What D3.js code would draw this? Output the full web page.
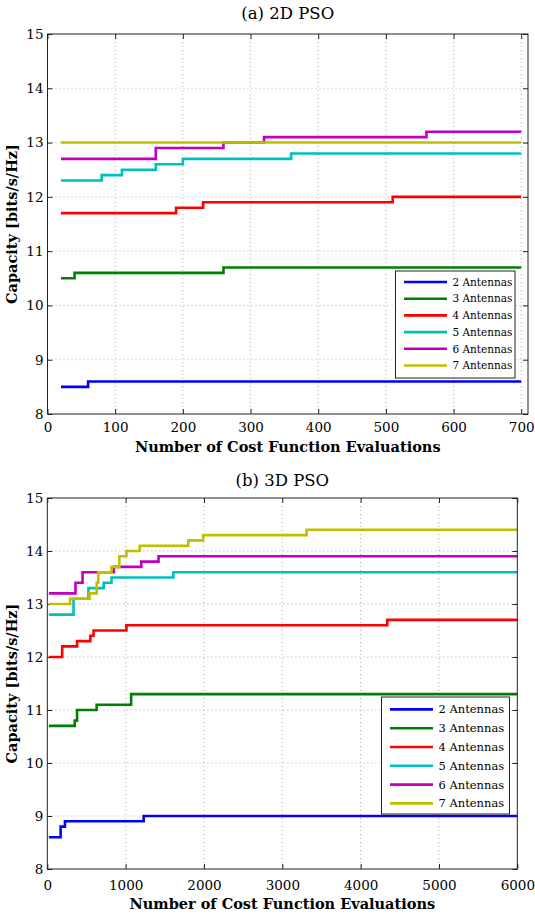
<!DOCTYPE html>
<html>
<head>
<meta charset="utf-8">
<script src="https://cdn.jsdelivr.net/npm/d3@7"></script>
<style>
  body { margin: 0; background: #fff; }
  svg text { font-family: "DejaVu Serif", serif; fill: #000; }
</style>
</head>
<body>
<div id="chart" style="width:535px;height:917px"></div>
<script>
// ---- data ----
const antennaLabels = ['2 Antennas', '3 Antennas', '4 Antennas', '5 Antennas', '6 Antennas', '7 Antennas'];
const yTicks = [8, 9, 10, 11, 12, 13, 14, 15];
const xTicks2D = [0, 100, 200, 300, 400, 500, 600, 700];
const xTicks3D = [0, 1000, 2000, 3000, 4000, 5000, 6000];

// (a) 2D PSO : evaluation count where the best capacity changes, and the capacity from there on
const evals2D_2 = [20, 60, 700];
const cap2D_2   = [8.5, 8.6, 8.6];
const evals2D_3 = [20, 40, 260, 700];
const cap2D_3   = [10.5, 10.6, 10.7, 10.7];
const evals2D_4 = [20, 190, 230, 510, 700];
const cap2D_4   = [11.7, 11.8, 11.9, 12.0, 12.0];
const evals2D_5 = [20, 80, 110, 160, 200, 360, 700];
const cap2D_5   = [12.3, 12.4, 12.5, 12.6, 12.7, 12.8, 12.8];
const evals2D_6 = [20, 160, 260, 320, 560, 700];
const cap2D_6   = [12.7, 12.9, 13.0, 13.1, 13.2, 13.2];
const evals2D_7 = [20, 700];
const cap2D_7   = [13.0, 13.0];

// (b) 3D PSO
const evals3D_2 = [20, 170, 225, 1230, 6000];
const cap3D_2   = [8.6, 8.8, 8.9, 9.0, 9.0];
const evals3D_3 = [20, 350, 380, 630, 1070, 6000];
const cap3D_3   = [10.7, 10.8, 11.0, 11.1, 11.3, 11.3];
const evals3D_4 = [20, 190, 380, 550, 590, 1010, 4340, 6000];
const cap3D_4   = [12.0, 12.2, 12.3, 12.4, 12.5, 12.6, 12.7, 12.7];
const evals3D_5 = [20, 335, 525, 720, 820, 1610, 6000];
const cap3D_5   = [12.8, 13.1, 13.3, 13.4, 13.5, 13.6, 13.6];
const evals3D_6 = [20, 360, 450, 850, 1200, 1420, 6000];
const cap3D_6   = [13.2, 13.4, 13.6, 13.7, 13.8, 13.9, 13.9];
const evals3D_7 = [20, 290, 540, 630, 650, 820, 920, 1010, 1180, 1800, 1990, 3310, 6000];
const cap3D_7   = [13.0, 13.1, 13.2, 13.4, 13.6, 13.7, 13.9, 14.0, 14.1, 14.2, 14.3, 14.4, 14.4];

const colors = ['#0000ff', '#008000', '#ff0000', '#00bfbf', '#bf00bf', '#bfbf00'];

const zipSeries = (xs, ys) => xs.map((x, i) => ({x: x, y: ys[i]}));

const panels = [
  {
    title: '(a) 2D PSO',
    box: {left: 47.5, right: 528, top: 34, bottom: 414},
    xDomain: [0, 710], xTicks: xTicks2D,
    series: [zipSeries(evals2D_2, cap2D_2), zipSeries(evals2D_3, cap2D_3), zipSeries(evals2D_4, cap2D_4),
             zipSeries(evals2D_5, cap2D_5), zipSeries(evals2D_6, cap2D_6), zipSeries(evals2D_7, cap2D_7)],
    titleY: 19, tickY: 432, labelY: 452, ylabelX: 17,
    legend: {x: 395.5, y: 271, w: 119.5, h: 107, row: 16.7, line: 43, font: 10.5}
  },
  {
    title: '(b) 3D PSO',
    box: {left: 47.3, right: 517.3, top: 498, bottom: 869},
    xDomain: [0, 6000], xTicks: xTicks3D,
    series: [zipSeries(evals3D_2, cap3D_2), zipSeries(evals3D_3, cap3D_3), zipSeries(evals3D_4, cap3D_4),
             zipSeries(evals3D_5, cap3D_5), zipSeries(evals3D_6, cap3D_6), zipSeries(evals3D_7, cap3D_7)],
    titleY: 486, tickY: 890, labelY: 909, ylabelX: 17,
    legend: {x: 381.5, y: 697, w: 128, h: 117, row: 18.8, line: 43, font: 11.5}
  }
];

const svg = d3.select('#chart').append('svg')
              .attr('width', 535)
              .attr('height', 917);

panels.forEach(p => drawPanel(p));

function drawPanel(p){
  let b = p.box;
  let g = svg.append('g');
  let xScale = d3.scaleLinear().domain(p.xDomain).range([b.left, b.right]);
  let yScale = d3.scaleLinear().domain([8, 15]).range([b.bottom, b.top]);

  // grid (dotted)
  g.append('g')
    .selectAll('line')
    .data(p.xTicks.filter(t => t > 0 && xScale(t) < b.right - 1))
    .enter().append('line')
      .attr('x1', d => xScale(d)).attr('x2', d => xScale(d))
      .attr('y1', b.top).attr('y2', b.bottom)
      .attr('stroke', '#999').attr('stroke-width', 0.8).attr('stroke-dasharray', '1,3');
  g.append('g')
    .selectAll('line')
    .data(yTicks.filter(t => t > 8 && t < 15))
    .enter().append('line')
      .attr('x1', b.left).attr('x2', b.right)
      .attr('y1', d => yScale(d)).attr('y2', d => yScale(d))
      .attr('stroke', '#999').attr('stroke-width', 0.8).attr('stroke-dasharray', '1,3');

  // axes with inward ticks, mirrored on top / right
  let xAxis = d3.axisBottom(xScale).tickValues(p.xTicks).tickFormat(d3.format('d')).tickSize(-5).tickSizeOuter(0);
  let yAxis = d3.axisLeft(yScale).tickValues(yTicks).tickFormat(d3.format('d')).tickSize(-5).tickPadding(4).tickSizeOuter(0);
  g.append('g').attr('transform', `translate(0, ${b.bottom})`).call(xAxis)
    .call(a => a.selectAll('.tick text').attr('font-size', 13.5).attr('y', p.tickY - b.bottom).attr('dy', 0));
  g.append('g').attr('transform', `translate(${b.left}, 0)`).call(yAxis)
    .call(a => a.selectAll('.tick text').attr('font-size', 13.5));
  g.append('g').attr('transform', `translate(0, ${b.top})`)
    .call(d3.axisTop(xScale).tickValues(p.xTicks).tickSize(-5).tickFormat('').tickSizeOuter(0));
  g.append('g').attr('transform', `translate(${b.right}, 0)`)
    .call(d3.axisRight(yScale).tickValues(yTicks).tickSize(-5).tickFormat('').tickSizeOuter(0));
  g.selectAll('.domain').remove();
  g.selectAll('.tick line').attr('stroke', '#222');

  // step lines
  let line = d3.line()
              .x(d => xScale(d.x))
              .y(d => yScale(d.y))
              .curve(d3.curveStepAfter);
  g.append('g')
    .attr('fill', 'none')
    .attr('stroke-width', 2.6)
    .selectAll('path')
    .data(p.series)
    .enter().append('path')
      .attr('stroke', (d, i) => colors[i])
      .attr('d', d => line(d));

  // frame
  g.append('rect')
    .attr('x', b.left).attr('y', b.top)
    .attr('width', b.right - b.left).attr('height', b.bottom - b.top)
    .attr('fill', 'none').attr('stroke', '#222').attr('stroke-width', 1);

  // legend
  let L = p.legend;
  let leg = g.append('g').attr('transform', `translate(${L.x}, ${L.y})`);
  leg.append('rect')
    .attr('width', L.w).attr('height', L.h)
    .attr('fill', '#fff').attr('stroke', '#222').attr('stroke-width', 1);
  let rows = leg.selectAll('g.row')
    .data(antennaLabels)
    .enter().append('g')
      .attr('transform', (d, i) => `translate(0, ${L.row * 0.66 + i * L.row})`);
  rows.append('line')
    .attr('x1', 8.5).attr('x2', 8.5 + L.line)
    .attr('stroke', (d, i) => colors[i]).attr('stroke-width', 2.6);
  rows.append('text')
    .attr('x', L.line + 14).attr('dy', '0.35em')
    .attr('font-size', L.font)
    .text(d => d);

  // titles
  g.append('text')
    .attr('x', (b.left + b.right) / 2).attr('y', p.titleY)
    .attr('text-anchor', 'middle').attr('font-size', 16.5)
    .text(p.title);
  g.append('text')
    .attr('x', (b.left + b.right) / 2).attr('y', p.labelY)
    .attr('text-anchor', 'middle').attr('font-size', 14.5).attr('font-weight', 'bold')
    .text('Number of Cost Function Evaluations');
  g.append('text')
    .attr('transform', `translate(${p.ylabelX}, ${(b.top + b.bottom) / 2}) rotate(-90)`)
    .attr('text-anchor', 'middle').attr('font-size', 14.5).attr('font-weight', 'bold')
    .text('Capacity [bits/s/Hz]');
}
</script>
</body>
</html>
